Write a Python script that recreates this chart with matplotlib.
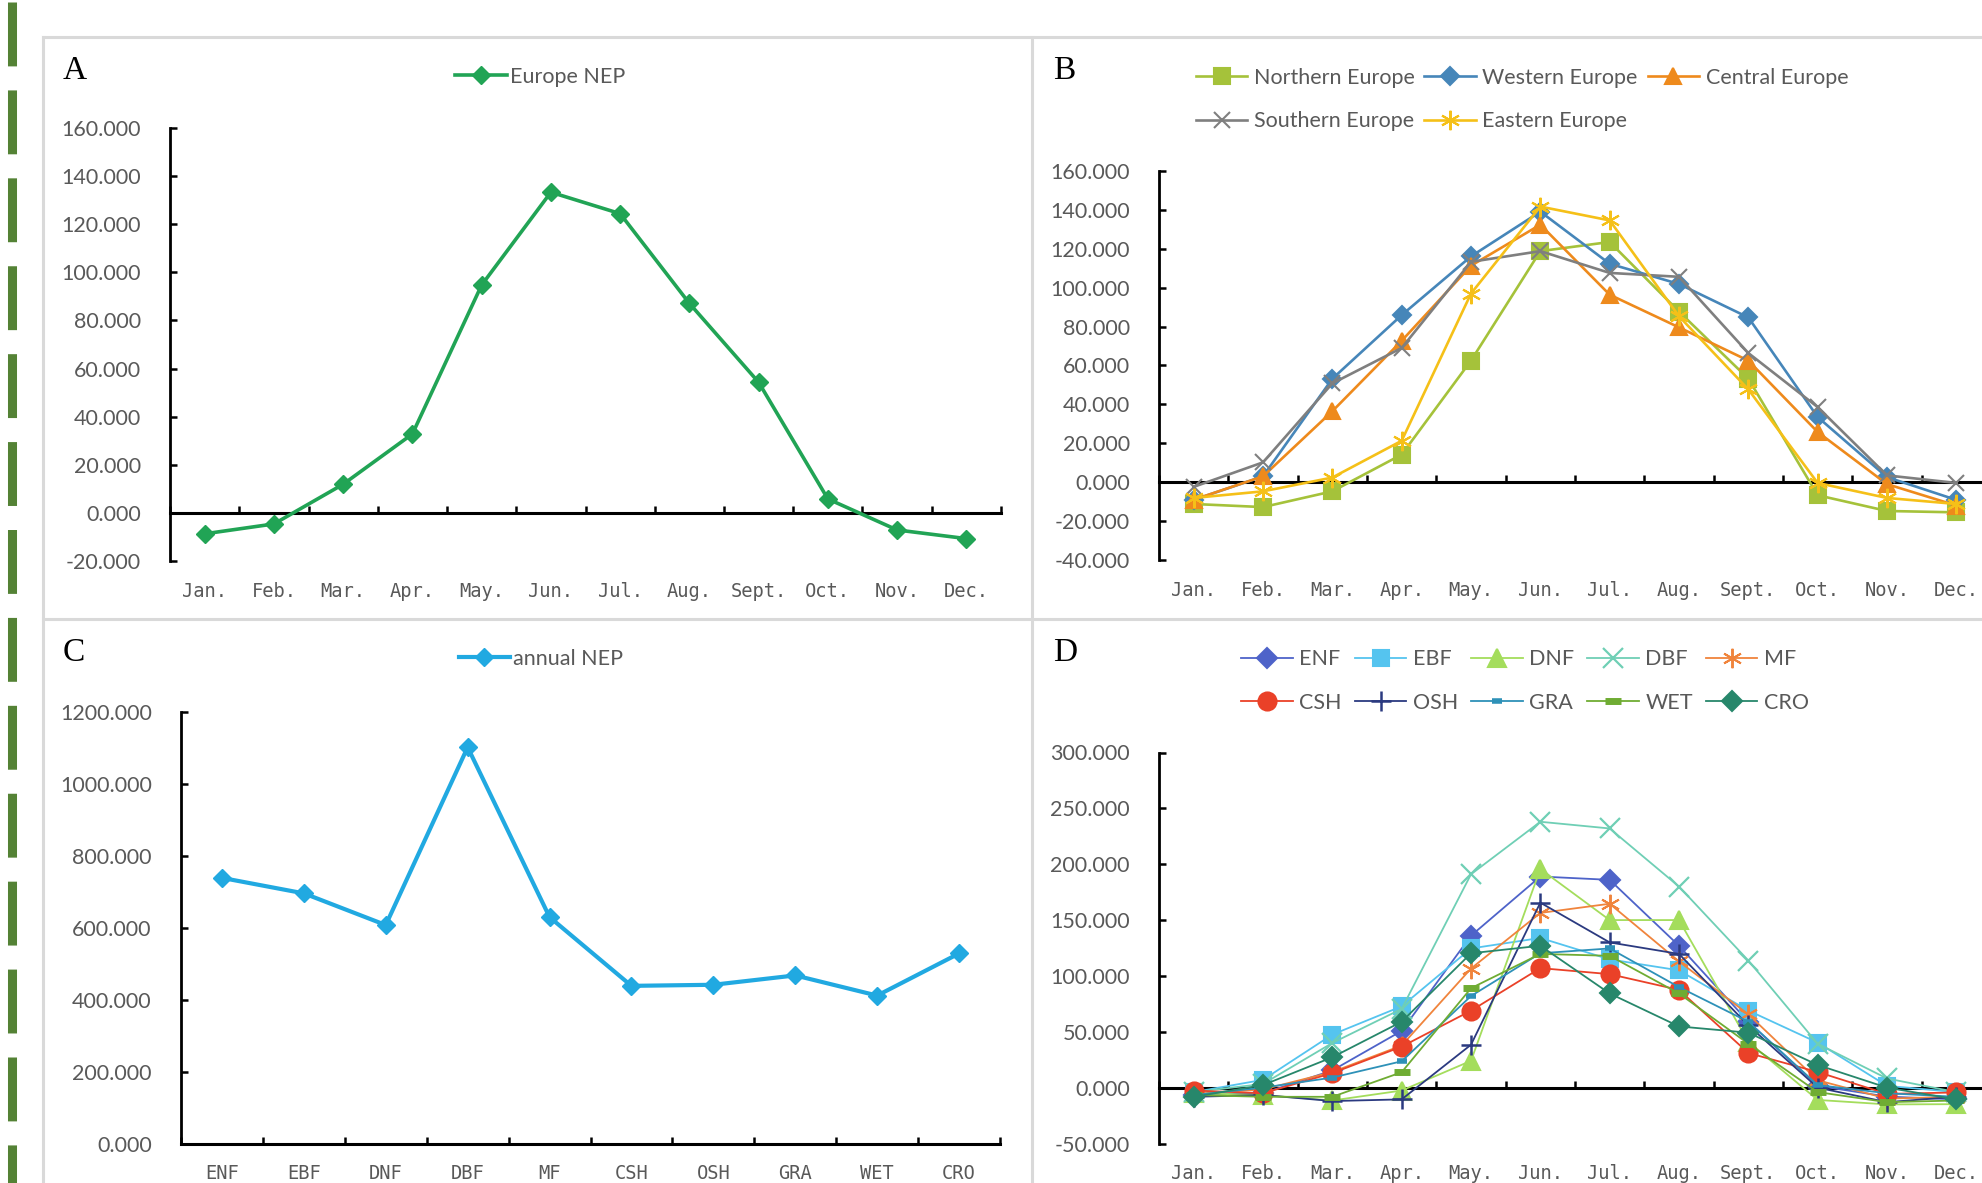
import matplotlib.pyplot as plt
import matplotlib.lines as mlines
import numpy as np
from matplotlib.ticker import FormatStrFormatter, MultipleLocator

plt.rcParams['font.family'] = ['Lato', 'DejaVu Sans']

W, H = 1982, 1183

# --- data ---
months = ['Jan.', 'Feb.', 'Mar.', 'Apr.', 'May.', 'Jun.', 'Jul.', 'Aug.', 'Sept.', 'Oct.', 'Nov.', 'Dec.']
pfts = ['ENF', 'EBF', 'DNF', 'DBF', 'MF', 'CSH', 'OSH', 'GRA', 'WET', 'CRO']

europe_nep = [-8.7, -4.6, 11.9, 32.8, 94.7, 133.3, 124.4, 87.1, 54.3, 5.8, -7.1, -10.7]

northern = [-11.2, -12.8, -4.7, 14.2, 62.5, 118.8, 123.5, 87.7, 53.2, -6.7, -14.8, -15.5]
western = [-9.1, 3.0, 53.2, 85.9, 116.1, 139.1, 112.3, 101.9, 84.7, 33.5, 2.6, -9.1]
central = [-9.0, 3.0, 36.5, 72.7, 111.3, 132.4, 96.4, 79.6, 62.5, 25.8, -1.0, -12.0]
southern = [-2.4, 10.2, 50.8, 69.0, 113.3, 118.8, 107.6, 105.6, 66.4, 38.6, 3.5, -0.4]
eastern = [-8.1, -4.7, 2.4, 21.3, 97.0, 141.7, 134.6, 85.3, 47.7, -0.4, -8.1, -11.2]

annual_nep = [738, 695, 607, 1101, 629, 438, 441, 467, 411, 528]

enf = [-6.6, -5.0, 15.4, 50.8, 136.0, 189.0, 186.0, 127.0, 59.0, 1.6, -8.0, -10.5]
ebf = [-4.0, 7.0, 47.5, 72.8, 124.6, 134.0, 114.8, 105.0, 69.0, 40.3, 1.6, -4.0]
dnf = [-5.0, -6.6, -11.5, -2.6, 24.0, 195.7, 150.0, 150.0, 41.0, -11.0, -15.0, -14.8]
dbf = [-4.0, 3.3, 40.0, 70.5, 191.0, 238.0, 232.0, 180.0, 113.8, 39.3, 8.2, -4.0]
mf = [-5.6, -1.6, 14.0, 37.7, 106.6, 156.4, 164.6, 113.0, 65.6, 6.6, -9.8, -8.2]
csh = [-2.6, -5.0, 13.0, 36.7, 68.9, 107.0, 101.6, 87.5, 31.0, 14.0, -5.6, -4.3]
osh = [-8.2, -6.6, -12.0, -10.5, 38.4, 165.6, 130.0, 119.7, 55.7, 0.0, -13.0, -8.2]
gra = [-6.6, 0.0, 9.0, 23.6, 82.0, 120.3, 124.6, 90.0, 59.0, 2.3, -5.0, -8.2]
wet = [-6.6, -8.2, -8.2, 13.8, 89.0, 119.7, 118.0, 84.3, 39.3, -4.0, -13.0, -11.5]
cro = [-8.2, 2.3, 27.2, 59.0, 120.3, 127.0, 84.3, 54.8, 49.2, 20.3, 0.0, -10.5]

GREY = '#595959'
TICKFS = 15.5
XFS = 13.5


def px_axes(fig, x0, y0, x1, y1):
    # pixel box (top-left origin) -> figure fraction axes
    return fig.add_axes([x0 / W, 1 - y1 / H, (x1 - x0) / W, (y1 - y0) / H])


def style_axes(ax, labels, ylo, yhi, step):
    n = len(labels)
    ax.set_xlim(-0.5, n - 0.5)
    ax.set_ylim(ylo, yhi)
    ax.spines['top'].set_visible(False)
    ax.spines['right'].set_visible(False)
    ax.spines['left'].set_linewidth(2.0)
    ax.spines['bottom'].set_linewidth(2.2)
    ax.spines['bottom'].set_position(('data', 0))
    ax.set_xticks(np.arange(-0.5, n, 1))
    ax.tick_params(axis='x', direction='in', length=5, width=1.8, labelbottom=False)
    ax.yaxis.set_major_locator(MultipleLocator(step))
    ax.yaxis.set_major_formatter(FormatStrFormatter('%.3f'))
    ax.tick_params(axis='y', direction='in', length=5, width=1.8, pad=21,
                   labelsize=TICKFS, labelcolor=GREY)
    sec = ax.secondary_xaxis('bottom')
    sec.set_xticks(range(n), labels=labels)
    sec.spines['bottom'].set_visible(False)
    sec.tick_params(length=0, pad=15, labelsize=XFS, labelcolor=GREY)
    for t in sec.get_xticklabels():
        t.set_fontfamily('DejaVu Sans Mono')
    ax.patch.set_alpha(0)


fig = plt.figure(figsize=(W / 100, H / 100), dpi=100)

# panel frames and left dashed strip
for (xa, ya, xb, yb) in [(43, 37, W, 37), (43, 619, W, 619), (43, 37, 43, H), (1032, 37, 1032, H)]:
    fig.add_artist(mlines.Line2D([xa / W, xb / W], [1 - ya / H, 1 - yb / H],
                                 color='#d9d9d9', lw=2.2, transform=fig.transFigure))
strip_lw = 6.5
strip = mlines.Line2D([11.5 / W, 11.5 / W], [1 - 2 / H, 0], color='#548235', lw=strip_lw,
                      solid_capstyle='butt', dash_capstyle='butt', transform=fig.transFigure)
strip.set_dashes((46 / strip_lw, 17.3 / strip_lw))
fig.add_artist(strip)

# ---------------- A ----------------
axA = px_axes(fig, 170, 128, 1001, 561)
style_axes(axA, months, -20, 160, 20)
axA.plot(range(12), europe_nep, color='#21a455', lw=2.6, marker='D', ms=9,
         label='Europe NEP', zorder=3, clip_on=False)
axA.legend(loc='center', bbox_to_anchor=(540 / W, 1 - 77 / H), bbox_transform=fig.transFigure,
           frameon=False, fontsize=TICKFS, handlelength=2.4, handletextpad=0.15,
           borderpad=0, labelcolor=GREY)

# ---------------- B ----------------
axB = px_axes(fig, 1159, 171, 1991, 560)
style_axes(axB, months, -40, 160, 20)
b_series = [
    (northern, 'Northern Europe', '#a5c23a', 's', 11),
    (western, 'Western Europe', '#4686b9', 'D', 9),
    (central, 'Central Europe', '#ee8a1c', '^', 11),
    (southern, 'Southern Europe', '#7f7f7f', 'x', 12),
    (eastern, 'Eastern Europe', '#f5c018', (6, 2, 0), 14),
]
hb = {}
for vals, name, col, mk, ms in b_series:
    line, = axB.plot(range(12), vals, color=col, lw=1.9, marker=mk, ms=ms, mew=1.5,
                     label=name, zorder=3, clip_on=False)
    hb[name] = line
orderB = ['Northern Europe', 'Southern Europe', 'Western Europe', 'Eastern Europe', 'Central Europe']
axB.legend([hb[k] for k in orderB], orderB, ncol=3, loc='center',
           bbox_to_anchor=(1522 / W, 1 - 99.5 / H), bbox_transform=fig.transFigure,
           frameon=False, fontsize=TICKFS, handlelength=2.4, handletextpad=0.3,
           columnspacing=0.45, labelspacing=1.1, borderpad=0, labelcolor=GREY)

# ---------------- C ----------------
axC = px_axes(fig, 181, 711.6, 1000, 1143.5)
style_axes(axC, pfts, 0, 1200, 200)
axC.plot(range(10), annual_nep, color='#21a9e1', lw=3.0, marker='D', ms=9,
         label='annual NEP', zorder=3, clip_on=False)
axC.legend(loc='center', bbox_to_anchor=(541 / W, 1 - 659 / H), bbox_transform=fig.transFigure,
           frameon=False, fontsize=TICKFS, handlelength=2.4, handletextpad=0.15,
           borderpad=0, labelcolor=GREY)

# ---------------- D ----------------
axD = px_axes(fig, 1159, 752.5, 1991, 1143.5)
style_axes(axD, months, -50, 300, 50)
d_series = [
    (enf, 'ENF', '#4e63c9', 'D', 10, 1.5),
    (ebf, 'EBF', '#55c4ef', 's', 12, 1.5),
    (dnf, 'DNF', '#a4dd5c', '^', 13, 1.5),
    (dbf, 'DBF', '#6fcfb5', 'x', 15, 1.6),
    (mf, 'MF', '#f0843c', (6, 2, 0), 14, 1.4),
    (csh, 'CSH', '#ea4128', 'o', 13, 1.5),
    (osh, 'OSH', '#2b3a80', '+', 15, 1.8),
    (gra, 'GRA', '#2e91b8', '_', 7, 4.0),
    (wet, 'WET', '#6fac33', '_', 11, 5.0),
    (cro, 'CRO', '#27876b', 'D', 10, 1.5),
]
hd = {}
for vals, name, col, mk, ms, mew in d_series:
    line, = axD.plot(range(12), vals, color=col, lw=1.3, marker=mk, ms=ms, mew=mew,
                     label=name, zorder=3, clip_on=False)
    hd[name] = line
# legend fills column by column, so interleave to get two rows of five
orderD = ['ENF', 'CSH', 'EBF', 'OSH', 'DNF', 'GRA', 'DBF', 'WET', 'MF', 'CRO']
axD.legend([hd[k] for k in orderD], orderD, ncol=5, loc='center',
           bbox_to_anchor=(1525 / W, 1 - 681 / H),
           bbox_transform=fig.transFigure, frameon=False, fontsize=TICKFS,
           handlelength=2.4, handletextpad=0.3, columnspacing=0.6, labelspacing=1.1,
           borderpad=0, labelcolor=GREY)

# panel letters
for letter, (x, y) in zip('ABCD', [(63, 71), (1053, 71), (63, 653), (1053, 653)]):
    fig.text(x / W, 1 - y / H, letter, fontsize=24, family='Liberation Serif',
             ha='left', va='center')

fig.savefig('out.png', dpi=100)
